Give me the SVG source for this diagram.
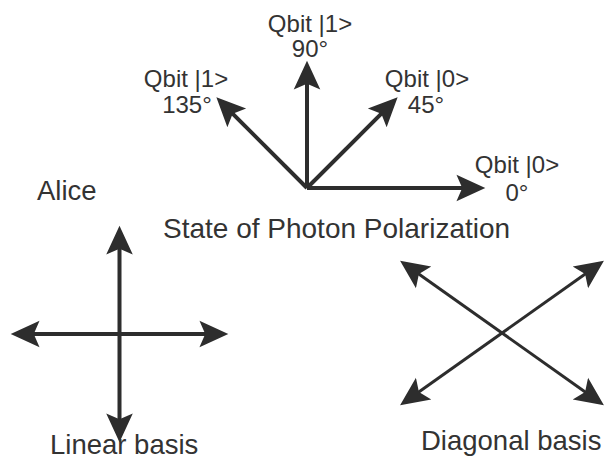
<svg xmlns="http://www.w3.org/2000/svg" width="611" height="459" viewBox="0 0 611 459">
  <defs>
    <style>
      .lbl { font-family: "Liberation Sans", Arial, sans-serif; fill: #333333; }
      .big { font-size: 27.5px; }
      .title { font-size: 28px; }
      .small { font-size: 24px; }
      .mid { text-anchor: middle; }
      .axis { stroke: #2d2d2d; stroke-width: 4; fill: none; }
      .axis-thin { stroke: #2d2d2d; stroke-width: 3; fill: none; }
    </style>
    <!-- notched arrowhead; tip sits 15px beyond the line end -->
    <marker id="head" markerUnits="userSpaceOnUse" markerWidth="30" markerHeight="30"
            viewBox="0 -12 26 24" refX="10" refY="0" orient="auto-start-reverse">
      <path d="M25,0 L0,-11.5 L5,0 L0,11.5 Z" fill="#2d2d2d"/>
    </marker>
  </defs>

  <rect width="611" height="459" fill="#ffffff"/>

  <!-- polarization state arrows from a common origin -->
  <g id="connectors">
    <g id="polarization-arrows">
      <line class="axis" x1="307" y1="188" x2="468" y2="188" marker-end="url(#head)"/>
      <line class="axis" x1="307" y1="188" x2="385.4" y2="109.6" marker-end="url(#head)"/>
      <line class="axis" x1="307" y1="188" x2="307" y2="78" marker-end="url(#head)"/>
      <line class="axis" x1="307" y1="188" x2="228.6" y2="109.6" marker-end="url(#head)"/>
    </g>
    <g id="linear-basis-arrows">
      <line class="axis" x1="119.5" y1="243" x2="119.5" y2="425" marker-start="url(#head)" marker-end="url(#head)"/>
      <line class="axis" x1="28" y1="334" x2="211" y2="334" marker-start="url(#head)" marker-end="url(#head)"/>
    </g>
    <g id="diagonal-basis-arrows">
      <line class="axis-thin" x1="414.2" y1="270.7" x2="589.8" y2="395.3" marker-start="url(#head)" marker-end="url(#head)"/>
      <line class="axis-thin" x1="589.8" y1="270.7" x2="414.2" y2="395.3" marker-start="url(#head)" marker-end="url(#head)"/>
    </g>
  </g>

  <g id="state-0deg">
    <text class="lbl small mid" x="517" y="173">Qbit |0&gt;</text>
    <text class="lbl small mid" x="517" y="201">0°</text>
  </g>
  <g id="state-45deg">
    <text class="lbl small mid" x="427" y="87">Qbit |0&gt;</text>
    <text class="lbl small mid" x="426" y="113">45°</text>
  </g>
  <g id="state-90deg">
    <text class="lbl small mid" x="310" y="32">Qbit |1&gt;</text>
    <text class="lbl small mid" x="310" y="57">90°</text>
  </g>
  <g id="state-135deg">
    <text class="lbl small mid" x="186" y="87">Qbit |1&gt;</text>
    <text class="lbl small mid" x="187" y="113">135°</text>
  </g>

  <g id="alice">
    <text class="lbl big" x="37" y="200">Alice</text>
  </g>
  <g id="title">
    <text class="lbl title" x="163" y="238">State of Photon Polarization</text>
  </g>
  <g id="linear-basis">
    <text class="lbl big" x="50" y="454">Linear basis</text>
  </g>
  <g id="diagonal-basis">
    <text class="lbl big" x="421" y="450">Diagonal basis</text>
  </g>
</svg>
